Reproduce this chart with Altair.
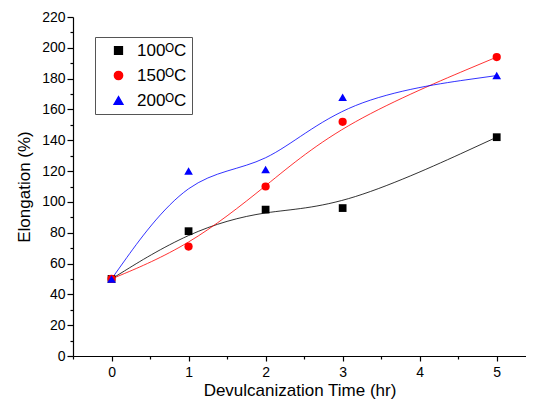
import altair as alt
import pandas as pd

times = [0, 1, 2, 3, 5]
s100 = [50, 81, 95, 96, 142]
s150 = [50, 71, 110, 152, 194]
s200 = [50, 120, 121, 168, 182]
series = ["100\u1d3cC", "150\u1d3cC", "200\u1d3cC"]
colors = ["#000000", "#ff0000", "#0000ff"]
shapes = ["square", "circle", "triangle-up"]
sizes = [60, 75, 110]
x_ticks = [-0.5, 0, 0.5, 1, 1.5, 2, 2.5, 3, 3.5, 4, 4.5, 5]
y_ticks = list(range(0, 221, 10))

rows = []
for name, vals in zip(series, [s100, s150, s200]):
    for t, v in zip(times, vals):
        rows.append({"t": t, "v": v, "s": name})
df = pd.DataFrame(rows)

FONT = "Liberation Sans"

x = alt.X("t:Q", scale=alt.Scale(domain=[-0.5, 5.38], nice=False, zero=False),
          axis=alt.Axis(values=x_ticks, title="Devulcanization Time (hr)",
                        labelExpr="datum.value % 1 === 0 ? format(datum.value, 'd') : ''",
                        tickSize={"condition": {"test": "datum.value % 1 !== 0", "value": 3}, "value": 5},
                        labelOverlap=False, labelPadding=4, titlePadding=3))
y = alt.Y("v:Q", scale=alt.Scale(domain=[0, 220], nice=False),
          axis=alt.Axis(values=y_ticks, title="Elongation (%)",
                        labelExpr="datum.value % 20 === 0 ? format(datum.value, 'd') : ''",
                        tickSize={"condition": {"test": "datum.value % 20 !== 0", "value": 3}, "value": 6},
                        labelOverlap=False, labelPadding=2, titlePadding=8))

legend = alt.Legend(title=None, orient="none", legendX=22, legendY=20,
                    strokeColor="#555555", padding=5, fillColor="white",
                    labelFontSize=17, labelFont=FONT,
                    rowPadding=7, labelOffset=10, symbolOffset=10, symbolOpacity=1)
color = alt.Color("s:N", scale=alt.Scale(domain=series, range=colors), legend=legend)
shape = alt.Shape("s:N", scale=alt.Scale(domain=series, range=shapes), legend=legend)
size = alt.Size("s:N", scale=alt.Scale(domain=series, range=sizes), legend=legend)

lines = alt.Chart(df).mark_line(interpolate="basis", strokeWidth=1, opacity=0.8).encode(
    x=x, y=y, color=color)
pts = alt.Chart(df).mark_point(filled=True, opacity=1).encode(
    x=x, y=y, color=color, shape=shape, size=size)

chart = alt.layer(lines, pts).properties(
    width=453, height=339,
    autosize=alt.AutoSizeParams(type="none"),
    padding={"left": 65, "top": 9, "right": 0, "bottom": 44},
    background="white",
).configure_view(stroke=None).configure_axis(
    grid=False, domainColor="black", tickColor="black", labelColor="black",
    titleColor="black", labelFont=FONT, titleFont=FONT, labelFontSize=14,
    titleFontSize=17, titleFontWeight="normal", domainWidth=1.2, tickWidth=1.2
)

chart.save("out.html", embed_options={"renderer": "svg", "actions": False})
